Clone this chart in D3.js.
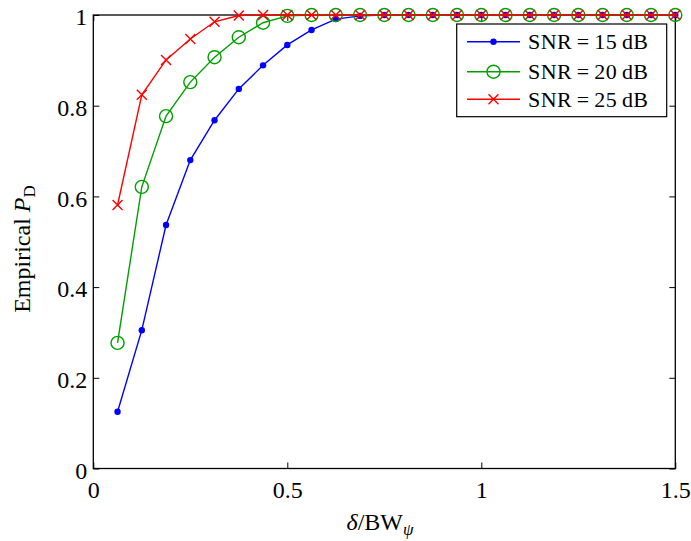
<!DOCTYPE html>
<html><head><meta charset="utf-8">
<script src="https://cdn.jsdelivr.net/npm/d3@7"></script>
<style>body{margin:0;background:#fff}svg{display:block}svg text{font-family:"Liberation Serif","DejaVu Serif",serif !important;fill:#000}</style>
</head><body><svg id="c" width="691" height="541"></svg>
<script>
const xValues = d3.range(1,25).map(k=>k/16);
const snr15 = [0.125,0.305,0.537,0.680,0.768,0.837,0.889,0.934,0.967,0.991,0.998,1,1,1,1,1,1,1,1,1,1,1,1,1];
const snr20 = [0.277,0.621,0.777,0.852,0.907,0.951,0.983,0.998,1,1,1,1,1,1,1,1,1,1,1,1,1,1,1,1];
const snr25 = [0.581,0.824,0.901,0.947,0.985,0.999,1,1,1,1,1,1,1,1,1,1,1,1,1,1,1,1,1,1];
const seriesNames = ["SNR\u2009=\u200915\u2009dB","SNR\u2009=\u200920\u2009dB","SNR\u2009=\u200925\u2009dB"];
const xTicks = [0,0.5,1,1.5];
const xTickLabels = ["0","0.5","1","1.5"];
const yTicks = [0,0.2,0.4,0.6,0.8,1];
const yTickLabels = ["0","0.2","0.4","0.6","0.8","1"];

const svg = d3.select("#c");
const L=93.3,R=675.3,T=15,B=468.5;
const x = d3.scaleLinear().domain([0,1.5]).range([L,R]);
const y = d3.scaleLinear().domain([0,1]).range([B,T]);
const tl=6;
const FF='"Liberation Serif","DejaVu Serif",serif';
// axes
const axB = svg.append("g").attr("transform",`translate(0,${B})`).call(d3.axisBottom(x).tickValues(xTicks).tickFormat((d,i)=>xTickLabels[i]).tickSizeInner(-tl).tickSizeOuter(0));
const axT = svg.append("g").attr("transform",`translate(0,${T})`).call(d3.axisTop(x).tickValues(xTicks).tickFormat("").tickSizeInner(-tl).tickSizeOuter(0));
const axL = svg.append("g").attr("transform",`translate(${L},0)`).call(d3.axisLeft(y).tickValues(yTicks).tickFormat((d,i)=>yTickLabels[i]).tickSizeInner(-tl).tickSizeOuter(0));
const axR = svg.append("g").attr("transform",`translate(${R},0)`).call(d3.axisRight(y).tickValues(yTicks).tickFormat("").tickSizeInner(-tl).tickSizeOuter(0));
[axB,axT,axL,axR].forEach(a=>{a.attr("font-family",FF);a.select(".domain").remove();a.selectAll("line").attr("stroke","#000").attr("stroke-width",1);a.selectAll("text").attr("font-size",24).style("font-family",FF).attr("fill","#000");});
axB.selectAll("text").attr("y",29.5).attr("dy",0);
axL.selectAll("text").attr("x",-6).attr("dy","0.4em");
svg.append("rect").attr("x",L).attr("y",T).attr("width",R-L).attr("height",B-T).attr("fill","none").attr("stroke","#000").attr("stroke-width",1.3);

// labels
const xl = svg.append("text").attr("x",380).attr("y",529.5).attr("text-anchor","middle").attr("font-size",24).style("font-family",FF);
xl.append("tspan").attr("font-style","italic").text("δ");
xl.append("tspan").text("/BW");
xl.append("tspan").attr("font-style","italic").attr("font-size",17).attr("dy",5).text("ψ");
const yl = svg.append("text").attr("transform",`translate(29.5,249) rotate(-90)`).attr("text-anchor","middle").attr("font-size",24).style("font-family",FF);
yl.append("tspan").text("Empirical ");
yl.append("tspan").attr("font-style","italic").text("P");
yl.append("tspan").attr("font-size",17).attr("dy",5).text("D");

const series = [
 {vals:snr15,color:"#0000ff",marker:"dot"},
 {vals:snr20,color:"#00a000",marker:"circle"},
 {vals:snr25,color:"#ff0000",marker:"x"}
];
const line = d3.line().x(d=>x(d[0])).y(d=>y(d[1]));
function drawMarker(g,cx,cy,type,color){
  if(type==="dot") g.append("circle").attr("cx",cx).attr("cy",cy).attr("r",3.2).attr("fill",color);
  else if(type==="circle") g.append("circle").attr("cx",cx).attr("cy",cy).attr("r",6.5).attr("fill","none").attr("stroke",color).attr("stroke-width",1.4);
  else { const s=5; g.append("path").attr("d",`M${cx-s},${cy-s}L${cx+s},${cy+s}M${cx-s},${cy+s}L${cx+s},${cy-s}`).attr("stroke",color).attr("stroke-width",1.4); }
}
series.forEach(s=>{
  const pts = xValues.map((xv,i)=>[xv,s.vals[i]]);
  svg.append("path").attr("d",line(pts)).attr("fill","none").attr("stroke",s.color).attr("stroke-width",1.4);
  const g = svg.append("g");
  pts.forEach(p=>drawMarker(g,x(p[0]),y(p[1]),s.marker,s.color));
});

// legend
const lg = svg.append("g");
lg.append("rect").attr("x",456.7).attr("y",24).attr("width",210).attr("height",92.7).attr("fill","#fff").attr("stroke","#000").attr("stroke-width",1.2);
const ly=[41.7,71.7,99.3];
series.forEach((s,i)=>{
  lg.append("line").attr("x1",467).attr("x2",520).attr("y1",ly[i]).attr("y2",ly[i]).attr("stroke",s.color).attr("stroke-width",1.4);
  drawMarker(lg,493.5,ly[i],s.marker,s.color);
  lg.append("text").attr("x",528).attr("y",ly[i]+7.5).attr("font-size",22).style("font-family",FF)
    .attr("textLength",120).attr("lengthAdjust","spacing").text(seriesNames[i]);
});
</script></body></html>
